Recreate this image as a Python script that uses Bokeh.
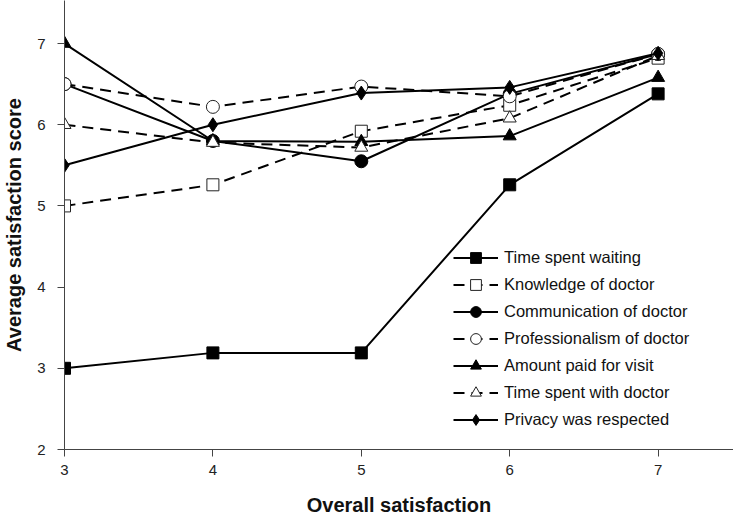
from bokeh.plotting import figure
from bokeh.models import Range1d, Legend, LegendItem, FixedTicker
from bokeh.embed import file_html
from bokeh.resources import INLINE

# ---- data ----
overall = [3, 4, 5, 6, 7]
x_ticks = [3, 4, 5, 6, 7]
y_ticks = [2, 3, 4, 5, 6, 7]

series_names = [
    "Time spent waiting",
    "Knowledge of doctor",
    "Communication of doctor",
    "Professionalism of doctor",
    "Amount paid for visit",
    "Time spent with doctor",
    "Privacy was respected",
]
time_waiting = [3.0, 3.19, 3.19, 5.26, 6.38]
knowledge = [5.0, 5.26, 5.92, 6.24, 6.82]
communication = [6.5, 5.8, 5.55, 6.38, 6.87]
professionalism = [6.5, 6.22, 6.47, 6.35, 6.87]
amount_paid = [7.0, 5.8, 5.79, 5.86, 6.58]
time_with = [6.0, 5.78, 5.72, 6.08, 6.85]
privacy = [5.5, 6.0, 6.39, 6.46, 6.88]

series_values = [time_waiting, knowledge, communication, professionalism,
                 amount_paid, time_with, privacy]

# ---- styles ----
styles = [
    dict(marker="square", filled=True, dashed=False, size=12),
    dict(marker="square", filled=False, dashed=True, size=12),
    dict(marker="circle", filled=True, dashed=False, size=13),
    dict(marker="circle", filled=False, dashed=True, size=13),
    dict(marker="triangle", filled=True, dashed=False, size=13),
    dict(marker="triangle", filled=False, dashed=True, size=13),
    dict(marker="diamond", filled=True, dashed=False, size=14),
]

FONT = "Liberation Sans"

p = figure(
    width=733, height=518,
    x_range=Range1d(3, 7.508), y_range=Range1d(2, 7.53),
    output_backend="svg", toolbar_location=None,
    min_border_left=64, min_border_right=0, min_border_top=0, min_border_bottom=69,
)
p.outline_line_color = None
p.xgrid.visible = False
p.ygrid.visible = False
p.background_fill_color = "white"
p.border_fill_color = "white"

for ax in (p.xaxis[0], p.yaxis[0]):
    ax.axis_line_color = "#444444"
    ax.axis_line_width = 1
    ax.major_tick_line_color = "#444444"
    ax.major_tick_out = 7
    ax.major_tick_in = 0
    ax.minor_tick_line_color = None
    ax.major_label_text_font = FONT
    ax.major_label_text_font_size = "15px"
    ax.major_label_text_color = "#222222"
    ax.axis_label_text_font = FONT
    ax.axis_label_text_font_size = "20px"
    ax.axis_label_text_font_style = "bold"
    ax.axis_label_text_color = "#111111"

p.xaxis.ticker = FixedTicker(ticks=x_ticks)
p.yaxis.ticker = FixedTicker(ticks=y_ticks)
p.xaxis.axis_label = "Overall satisfaction"
p.yaxis.axis_label = "Average satisfaction score"
p.xaxis.major_label_standoff = 8
p.xaxis.axis_label_standoff = 16
p.yaxis.major_label_standoff = 12
p.yaxis.axis_label_standoff = 9

items = []
for name, vals, st in zip(series_names, series_values, styles):
    lr = p.line(overall, vals, line_color="black", line_width=2,
                line_dash="11 7" if st["dashed"] else "solid")
    sr = p.scatter(overall, vals, marker=st["marker"], size=st["size"],
                   fill_color="black" if st["filled"] else "white",
                   line_color="black" if st["filled"] else "#222222",
                   line_width=1)
    items.append(LegendItem(label=name, renderers=[lr, sr]))

legend = Legend(
    items=items, location=(389, 16),
    glyph_width=45, glyph_height=27, label_height=27,
    spacing=0, padding=0, margin=0, label_standoff=6,
    border_line_color=None, background_fill_alpha=0,
    label_text_font=FONT, label_text_font_size="16.5px", label_text_color="#111111",
)
p.add_layout(legend)

open("out.html", "w").write(file_html(p, INLINE))
